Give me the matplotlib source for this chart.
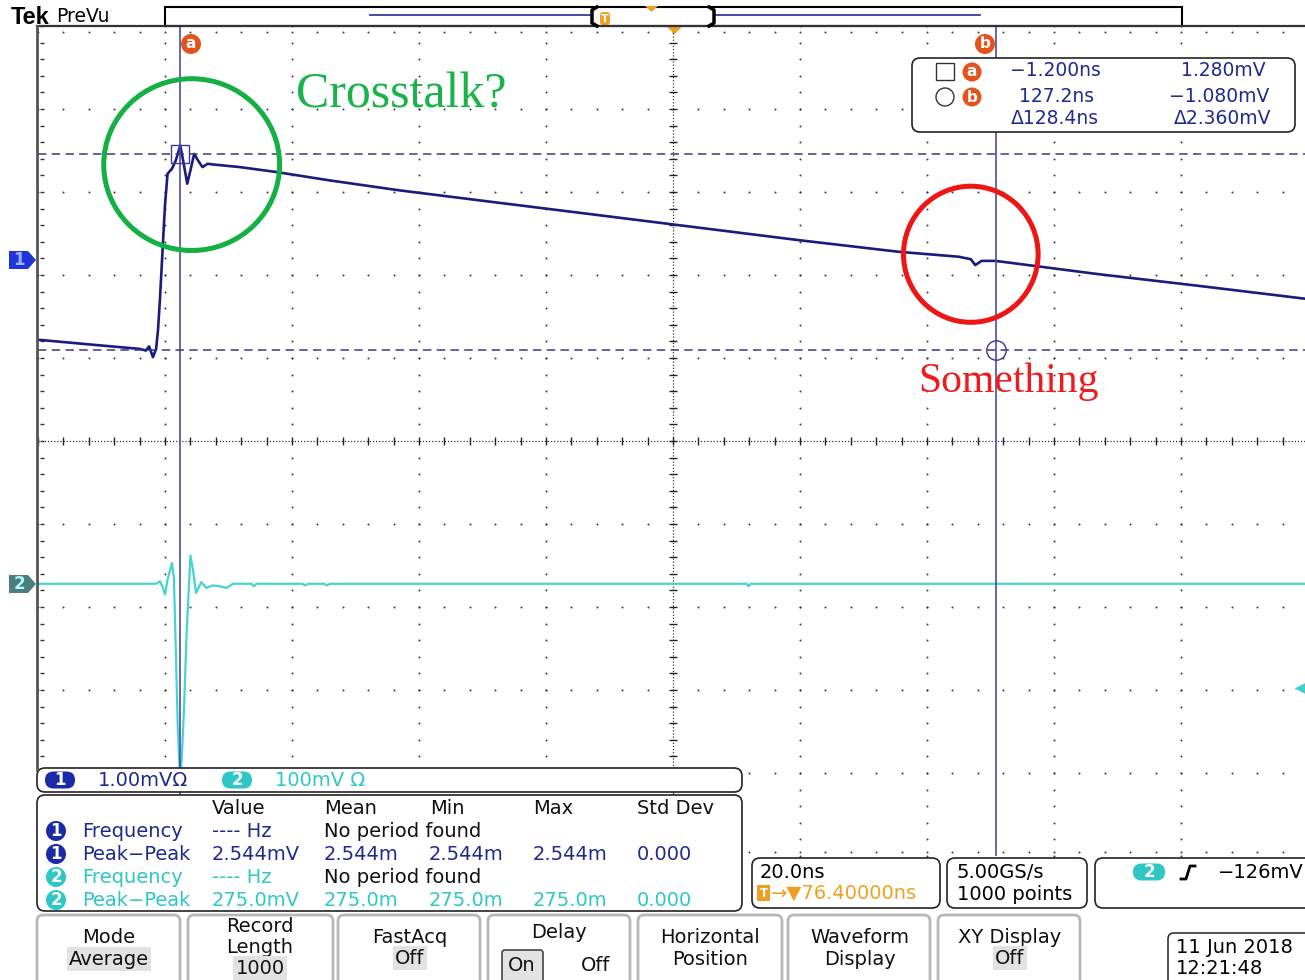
import numpy as np
import matplotlib.pyplot as plt
from matplotlib.patches import FancyBboxPatch, Ellipse, Polygon, Rectangle, Circle

W, H = 1305, 980

# scope settings
time_per_div = 20.0      # ns / div
h_delay = 76.4           # ns at screen centre
ch1_scale = 1.0          # mV / div
ch2_scale = 100.0        # mV / div
ch1_offset = 2.18        # div above screen centre
ch2_offset = -1.72
trig_level = -126.0      # mV on ch2

# channel 1 trace (ns, mV)
ch1_t = [-23.6, -15.0, -9.1, -7.6, -6.6, -6.1, -5.5, -5.0, -4.7, -4.4, -3.9, -3.6,
         -3.2, -2.5, -1.9, -1.2, -0.7, -0.1, 0.4, 1.0, 1.6, 2.3, 3.1, 4.2, 8.2,
         14.0, 22.3, 33.3, 49.0, 64.8, 80.5, 96.2, 111.9, 121.4, 123.3, 124.0,
         125.0, 127.2, 143.4, 159.1, 176.4]
ch1_v = [-0.96, -1.02, -1.06, -1.07, -1.09, -1.04, -1.17, -1.07, -0.84, -0.48, 0.24, 0.66,
         1.04, 1.10, 1.20, 1.38, 1.18, 0.92, 1.08, 1.28, 1.20, 1.12, 1.16, 1.15, 1.12,
         1.06, 0.96, 0.84, 0.69, 0.54, 0.39, 0.24, 0.10, 0.04, 0.01, -0.06,
         -0.01, -0.01, -0.17, -0.31, -0.47]

# channel 2 trace (ns, mV)
ch2_t = [-23.6, -5.0, -4.4, -3.9, -3.6, -3.2, -2.5, -2.2, -1.9, -1.6, -1.2, -0.9,
         -0.6, -0.2, 0.4, 0.8, 1.3, 2.1, 2.9, 3.9, 5.0, 6.1, 7.1, 10.0, 10.4, 10.8,
         18.0, 18.4, 19.0, 21.5, 21.9, 22.4, 88.0, 88.3, 88.6, 176.4]
ch2_v = [0, 0, 3, -5, -13, 5, 25, 8, -80, -170, -241, -200,
         -150, -60, 34, 17, -11, 2, -5, -2, -3, -5, 0, 0, -3, 0,
         0, -2, 0, 0, -2, 0, 0, -3, 0, 0]

# cursors
cursor_t = [-1.2, 127.2]   # ns
cursor_v = [1.28, -1.08]   # mV on ch1

# measurement table
meas_src = [1, 1, 2, 2]
meas_name = ["Frequency", "Peak\u2212Peak", "Frequency", "Peak\u2212Peak"]
meas_value = ["---- Hz", "2.544mV", "---- Hz", "275.0mV"]
meas_mean = ["No period found", "2.544m", "No period found", "275.0m"]
meas_min = ["", "2.544m", "", "275.0m"]
meas_max = ["", "2.544m", "", "275.0m"]
meas_std = ["", "0.000", "", "0.000"]

NAVY = "#1f2a8f"
CYAN = "#2fc6c6"
ORANGE = "#f0a020"
CUR = "#e4531c"

plt.rcParams["font.family"] = "DejaVu Sans"
fig = plt.figure(figsize=(W / 100, H / 100), dpi=100)
fig.patch.set_facecolor("white")

# graticule: 10 x 10 divisions, 127 x 83 px each
gx0, gtop, dw, dh = 38, 26, 127, 83
ax = fig.add_axes([gx0 / W, 1 - (gtop + 10 * dh) / H, 10 * dw / W, 10 * dh / H])
x_lo, x_hi = h_delay - 5 * time_per_div, h_delay + 5 * time_per_div
ax.set_xlim(x_lo, x_hi)
ax.set_ylim(-5, 5)
ax.axis("off")
ax.set_zorder(1)

minor_x = np.arange(x_lo, x_hi + 1e-6, time_per_div / 5)
minor_y = np.arange(-5, 5.001, 0.2)
major_x = np.arange(x_lo, x_hi + 1e-6, time_per_div)
major_y = np.arange(-5, 5.001, 1.0)
dot = dict(s=2.0, c="#3a3a3a", lw=0, zorder=1)
for mx in major_x[1:]:
    if abs(mx - h_delay) > 1e-6:
        ax.scatter(np.full_like(minor_y, mx), minor_y, clip_on=False, **dot)
for my in major_y[1:-1]:
    if abs(my) > 1e-6:
        ax.scatter(minor_x, np.full_like(minor_x, my), clip_on=False, **dot)
ax.scatter(minor_x, np.full_like(minor_x, 4.93), **dot)
ax.scatter(minor_x, np.full_like(minor_x, -4.95), **dot)
# centre cross
ax.axvline(h_delay, color="#333333", lw=0.9, ls=(0, (1, 1.5)), zorder=1)
ax.axhline(0, color="#333333", lw=0.9, ls=(0, (1, 1.5)), zorder=1)
ax.plot(np.full_like(minor_y, h_delay), minor_y, ls="none", marker="_", ms=6, mew=1, color="#222222", zorder=1)
ax.plot(minor_x, np.zeros_like(minor_x), ls="none", marker="|", ms=6, mew=1, color="#222222", zorder=1)
# left edge ticks
ax.plot(np.full_like(minor_y, x_lo + 0.6), minor_y, ls="none", marker="_", ms=3, mew=1, color="#333333")

# traces
ax.plot(ch2_t, ch2_offset + np.array(ch2_v) / ch2_scale, color="#45d3d3", lw=1.6, zorder=4)
ax.plot(ch1_t, ch1_offset + np.array(ch1_v) / ch1_scale, color="#1b1b7d", lw=1.9, zorder=5)

# cursors
for t in cursor_t:
    ax.axvline(t, color="#4b4ba8", lw=1.2, zorder=6)
for v in cursor_v:
    ax.axhline(ch1_offset + v / ch1_scale, color="#3a3a7c", lw=1.1, ls=(0, (5.5, 3.5)), zorder=6)
ax.plot(cursor_t[0], ch1_offset + cursor_v[0] / ch1_scale, marker="s", ms=13, mfc="none", mec="#3a3a8c", mew=1, zorder=7)
ax.plot(cursor_t[1], ch1_offset + cursor_v[1] / ch1_scale, marker="o", ms=14, mfc="none", mec="#3a3a8c", mew=1, zorder=7)
# trigger level marker on the right
ax.plot(175.2, ch2_offset + trig_level / ch2_scale, marker="<", ms=8, color="#3fcfcf", mec="none", clip_on=False, zorder=7)

# hand-drawn annotations
ax.add_patch(Ellipse((0.6, 3.33), 27.7, 2.07, fill=False, ec="#14b043", lw=3.6, zorder=8, clip_on=False))
ax.add_patch(Ellipse((123.3, 2.25), 21.2, 1.64, fill=False, ec="#ee1515", lw=3.6, zorder=8, clip_on=False))

# overlay in pixel coordinates
ov = fig.add_axes([0, 0, 1, 1])
ov.set_xlim(0, W)
ov.set_ylim(H, 0)
ov.axis("off")
ov.patch.set_alpha(0)
ov.set_zorder(2)

ov.text(296, 107, "Crosstalk?", family="Liberation Serif", fontsize=36, color="#19b34a", va="baseline")
ov.text(918, 392, "Something", family="Liberation Serif", fontsize=30, color="#ee1c1c", va="baseline")

# frame lines
ov.plot([37, W], [26, 26], color="#333333", lw=1.6)
ov.plot([37, 37], [26, 770], color="#555555", lw=2)

# header
ov.text(11, 17, "Tek", fontsize=17, fontweight="bold", va="center", family="Liberation Sans")
ov.text(56, 16, "PreVu", fontsize=13.5, va="center")
ov.add_patch(Rectangle((165, 7), 1017, 19, fc="white", ec="black", lw=1.5))
ov.plot([370, 592], [15, 15], color="#3a3a9a", lw=1.3)
ov.plot([714, 980], [15, 15], color="#3a3a9a", lw=1.3)
ov.plot([597, 592, 592, 597], [7, 10, 23, 26], color="black", lw=2.5)
ov.plot([709, 714, 714, 709], [7, 10, 23, 26], color="black", lw=2.5)
ov.add_patch(FancyBboxPatch((600, 12), 10, 13, boxstyle="round,pad=0,rounding_size=3", fc=ORANGE, ec="none"))
ov.text(605, 18.5, "T", fontsize=8, color="white", ha="center", va="center", fontweight="bold")
ov.add_patch(Polygon([[645, 6], [658, 6], [651.5, 12]], fc=ORANGE, ec="none"))
ov.add_patch(Polygon([[667, 27], [682, 27], [674.5, 34]], fc=ORANGE, ec="none"))

# channel ground markers
ov.add_patch(Polygon([[9, 251], [28, 251], [36, 260], [28, 269], [9, 269]], fc="#1f35d8", ec="none"))
ov.text(19, 260, "1", color="#9fb0ff", fontsize=12, ha="center", va="center", fontweight="bold")
ov.add_patch(Polygon([[9, 575], [28, 575], [36, 584], [28, 593], [9, 593]], fc="#4e7d7d", ec="none"))
ov.text(19, 584, "2", color="#b0ffff", fontsize=12, ha="center", va="center", fontweight="bold")


def badge(x, y, label, color, w=0, r=10, fs=12):
    if w:
        ov.add_patch(FancyBboxPatch((x - w / 2, y - 8.5), w, 17, boxstyle="round,pad=0,rounding_size=8.5",
                                    fc=color, ec="none"))
    else:
        ov.add_patch(Circle((x, y), r, fc=color, ec="none"))
    ov.text(x, y, label, color="white", ha="center", va="center", fontsize=fs, fontweight="bold")


def box(x0, y0, x1, y1, ec="#222222", lw=1.2, rs=8):
    ov.add_patch(FancyBboxPatch((x0, y0), x1 - x0, y1 - y0, boxstyle=f"round,pad=0,rounding_size={rs}",
                                fc="white", ec=ec, lw=lw))


# cursor badges
badge(191, 44, "a", CUR, fs=11)
badge(985, 44, "b", CUR, fs=11)

# cursor readout
box(912, 58, 1295, 132)
ov.add_patch(Rectangle((936, 63), 18, 17, fill=False, ec="#333333", lw=1))
badge(972, 72, "a", CUR, r=9.5, fs=11)
ov.add_patch(Circle((945, 97), 9, fill=False, ec="#333333", lw=1))
badge(972, 97, "b", CUR, r=9.5, fs=11)
ro = dict(color=NAVY, fontsize=13.5, ha="center", va="center")
ov.text(1055, 71, f"{cursor_t[0]:.3f}ns".replace("-", "\u2212"), **ro)
ov.text(1057, 96, f"{cursor_t[1]:.1f}ns", **ro)
ov.text(1055, 119, f"\u0394{cursor_t[1] - cursor_t[0]:.1f}ns", **ro)
ov.text(1223, 71, f"{cursor_v[0]:.3f}mV", **ro)
ov.text(1219, 96, f"{cursor_v[1]:.3f}mV".replace("-", "\u2212"), **ro)
ov.text(1223, 119, f"\u0394{cursor_v[0] - cursor_v[1]:.3f}mV", **ro)

# channel scale bar
box(37, 768, 742, 792)
badge(60, 780, "1", "#1a2aa8", w=30)
ov.text(98, 780, f"{ch1_scale:.2f}mV\u03a9", color=NAVY, fontsize=14, va="center")
badge(237, 780, "2", CYAN, w=30)
ov.text(275, 780, f"{ch2_scale:.0f}mV \u03a9", color=CYAN, fontsize=14, va="center")

# measurement panel
box(37, 795, 742, 911)
for x, h in zip([212, 324, 430, 533, 637], ["Value", "Mean", "Min", "Max", "Std Dev"]):
    ov.text(x, 808, h, fontsize=14, va="center", color="#111111")
for i, src in enumerate(meas_src):
    y = 831 + 23 * i
    col = NAVY if src == 1 else CYAN
    badge(56, y, str(src), "#1a2aa8" if src == 1 else CYAN, r=10)
    ov.text(82, y, meas_name[i], color=col, fontsize=14, va="center")
    ov.text(212, y, meas_value[i], color=col, fontsize=14, va="center")
    mcol = "#111111" if meas_mean[i].startswith("No") else col
    ov.text(324, y, meas_mean[i], color=mcol, fontsize=14, va="center")
    ov.text(429, y, meas_min[i], color=col, fontsize=14, va="center")
    ov.text(533, y, meas_max[i], color=col, fontsize=14, va="center")
    ov.text(637, y, meas_std[i], color=col, fontsize=14, va="center")

# horizontal / acquisition / trigger readouts
box(752, 858, 940, 908)
ov.text(760, 872, f"{time_per_div:.1f}ns", fontsize=14, va="center")
ov.add_patch(Rectangle((757, 885), 13, 16, fc=ORANGE, ec="none"))
ov.text(763.5, 893, "T", fontsize=8.5, color="white", ha="center", va="center", fontweight="bold")
ov.text(771, 893, f"\u2192\u25bc{h_delay:.5f}ns", fontsize=14, color=ORANGE, va="center")
box(947, 858, 1087, 908)
ov.text(957, 872, "5.00GS/s", fontsize=14, va="center")
ov.text(957, 894, "1000 points", fontsize=14, va="center")
box(1095, 858, 1330, 908)
badge(1149, 872, "2", CYAN, w=32)
ov.plot([1181, 1186, 1190, 1195], [879, 879, 866, 866], color="black", lw=2)
ov.text(1218, 872, f"{trig_level:.0f}mV".replace("-", "\u2212"), fontsize=14, va="center")

# soft buttons
buttons = [(37, 180), (188, 333), (338, 480), (488, 630), (638, 782), (788, 930), (938, 1080)]
for x0, x1 in buttons:
    box(x0, 915, x1, 995, ec="#b8b8b8", lw=2, rs=6)
hl = dict(boxstyle="square,pad=0.12", fc="#e2e2e2", ec="none")
bt = dict(fontsize=14, ha="center", va="center", color="#111111")
ov.text(109, 937, "Mode", **bt)
ov.text(109, 959, "Average", bbox=hl, **bt)
ov.text(260, 926, "Record", **bt)
ov.text(260, 947, "Length", **bt)
ov.text(260, 968, "1000", bbox=hl, **bt)
ov.text(410, 937, "FastAcq", **bt)
ov.text(410, 958, "Off", bbox=hl, **bt)
ov.text(559, 932, "Delay", **bt)
ov.add_patch(FancyBboxPatch((502, 950), 41, 34, boxstyle="round,pad=0,rounding_size=3", fc="#e2e2e2", ec="#444444", lw=1.2))
ov.text(522, 965, "On", **bt)
ov.text(596, 965, "Off", **bt)
ov.text(710, 937, "Horizontal", **bt)
ov.text(710, 959, "Position", **bt)
ov.text(860, 937, "Waveform", **bt)
ov.text(860, 959, "Display", **bt)
ov.text(1010, 937, "XY Display", **bt)
ov.text(1010, 958, "Off", bbox=hl, **bt)

box(1168, 933, 1330, 995, ec="#333333", rs=6)
ov.text(1176, 947, "11 Jun 2018", fontsize=14, va="center")
ov.text(1176, 968, "12:21:48", fontsize=14, va="center")

fig.savefig("out.png", dpi=100)
